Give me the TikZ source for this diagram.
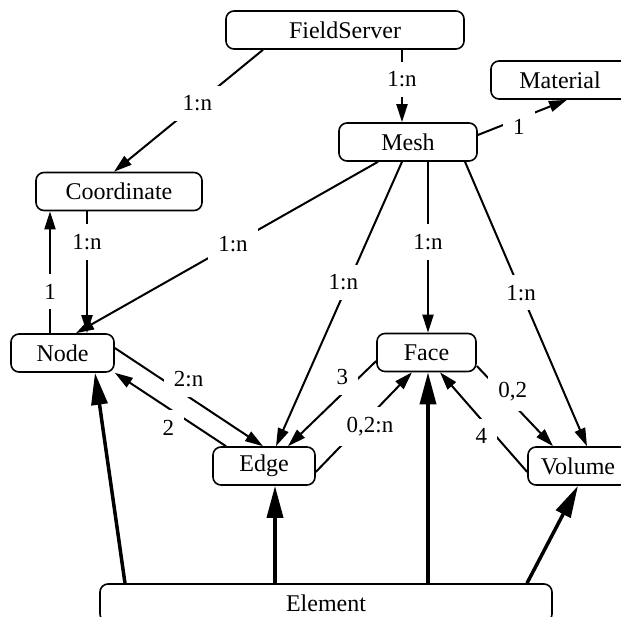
\documentclass[tikz,border=0pt]{standalone}
\usepackage{fontspec}
\setmainfont{Liberation Serif}
\usetikzlibrary{arrows.meta}
\begin{document}
\begin{tikzpicture}[x=1pt,y=-1pt,
  box/.style={draw, rounded corners=8pt, line width=1.6pt, minimum height=38pt, inner sep=0pt, font=\fontsize{24}{28}\selectfont},
  thin/.style={line width=2pt, -{Triangle[length=18pt,width=11pt]}},
  thick/.style={line width=3.5pt, -{Triangle[length=32pt,width=16pt]}},
  lab/.style={fill=white, inner xsep=10pt, inner ysep=10pt, font=\fontsize{23}{26}\selectfont}]
\useasboundingbox (0,0) rectangle (621,617);
\node[box, minimum width=238pt] (fs) at (345,30) {FieldServer};
\node[box, minimum width=138pt] (mat) at (560,80) {Material};
\node[box, minimum width=138pt] (mesh) at (408,142) {Mesh};
\node[box, minimum width=166pt] (coord) at (119,191.5) {Coordinate};
\node[box, minimum width=103pt] (nd) at (62.5,353) {Node};
\node[box, minimum width=102pt] (edge) at (264,466) {Edge};
\node[box, minimum width=99pt] (face) at (426.5,352.5) {Face};
\node[box, minimum width=100pt] (vol) at (578,466) {Volume};
\node[box, minimum width=452pt] (elem) at (326,603) {Element};
% thin connectors
\draw[thin] ([xshift=-82pt]fs.south) -- node[lab, pos=0.44] {1:n} ([xshift=-5pt]coord.north);
\draw[thin] ([xshift=57pt]fs.south) -- node[lab, pos=0.41] {1:n} ([xshift=-6pt]mesh.north);
\draw[thin] ([yshift=7pt]mesh.east) -- node[lab, pos=0.46, yshift=-8pt] {1} ([xshift=7pt]mat.south);
\draw[thin] ([xshift=-30pt]mesh.south) -- node[lab, pos=0.48] {1:n} ([xshift=13.5pt]nd.north);
\draw[thin] ([xshift=-6pt]mesh.south) -- node[lab, pos=0.41, xshift=-7pt, yshift=-4pt] {1:n} ([xshift=12pt]edge.north);
\draw[thin] ([xshift=20pt]mesh.south) -- node[lab, pos=0.47] {1:n} ([xshift=1.5pt]face.north);
\draw[thin] ([xshift=57pt]mesh.south) -- node[lab, pos=0.46] {1:n} ([xshift=9pt]vol.north);
\draw[thin] ([xshift=-32pt]coord.south) -- node[lab, pos=0.25] {1:n} ([xshift=24.5pt]nd.north);
\draw[thin] ([xshift=-12.5pt]nd.north) -- node[lab, pos=0.34] {1} ([xshift=-69pt]coord.south);
\draw[thin] ([yshift=5pt]nd.east) -- node[lab, pos=0.41, xshift=13pt, yshift=9pt] {2:n} ([xshift=-1pt]edge.north);
\draw[thin] ([xshift=-38pt]edge.north) -- node[lab, pos=0.41, xshift=-12pt, yshift=-12pt] {2} (nd.south east);
\draw[thin] ([yshift=-8.5pt]face.west) -- node[lab, pos=0.27, xshift=-10pt, yshift=7pt] {3} ([xshift=24pt]edge.north);
\draw[thin] ([yshift=-6pt]edge.east) -- node[lab, pos=0.46, xshift=10pt] {0,2:n} ([xshift=-14.5pt]face.south);
\draw[thin] ([yshift=-13.5pt]face.east) -- node[lab, pos=0.38, xshift=7pt, yshift=5pt] {0,2} ([xshift=-25pt]vol.north);
\draw[thin] ([yshift=-6pt]vol.west) -- node[lab, pos=0.40, xshift=-11pt, yshift=-4pt] {4} ([xshift=13.5pt]face.south);
% thick connectors
\draw[thick] ([xshift=-201pt]elem.north) -- ([xshift=32.5pt]nd.south);
\draw[thick] ([xshift=-51pt]elem.north) -- ([xshift=11pt]edge.south);
\draw[thick] ([xshift=102pt]elem.north) -- ([xshift=1.5pt]face.south);
\draw[thick] ([xshift=201pt]elem.north) -- (vol.south);
\end{tikzpicture}
\end{document}
